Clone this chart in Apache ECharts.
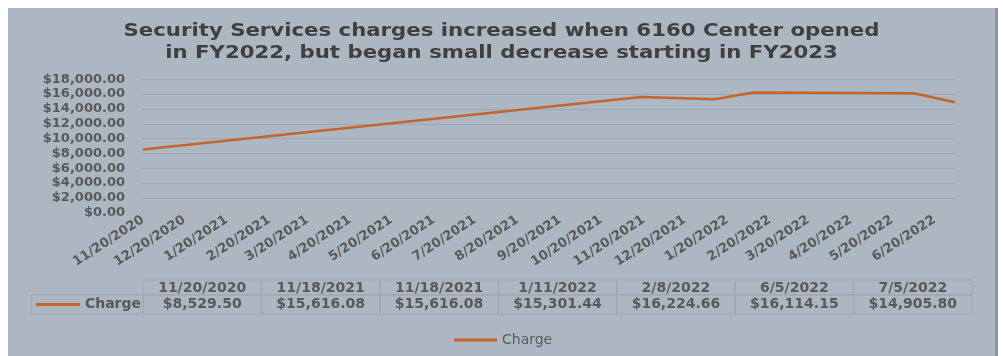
<!DOCTYPE html>
<html>
<head>
<meta charset="utf-8">
<script src="https://cdn.jsdelivr.net/npm/echarts@6/dist/echarts.min.js"></script>
<style>
html,body{margin:0;padding:0;background:#ffffff;width:1003px;height:356px;overflow:hidden;}
#panel{position:absolute;left:8px;top:8px;width:987px;height:352px;background:#acb7c1;border-right:3px solid #8e959b;}
#chart{position:absolute;left:8px;top:8px;width:987px;height:348px;}
</style>
</head>
<body>
<div id="panel"></div>
<div id="chart"></div>
<script>
// ---- data ----
const seriesName = 'Charge';
const pointDates = ['11/20/2020','11/18/2021','11/18/2021','1/11/2022','2/8/2022','6/5/2022','7/5/2022'];
const charges = [8529.50, 15616.08, 15616.08, 15301.44, 16224.66, 16114.15, 14905.80];
const tickLabels = ['11/20/2020','12/20/2020','1/20/2021','2/20/2021','3/20/2021','4/20/2021','5/20/2021',
  '6/20/2021','7/20/2021','8/20/2021','9/20/2021','10/20/2021','11/20/2021','12/20/2021','1/20/2022',
  '2/20/2022','3/20/2022','4/20/2022','5/20/2022','6/20/2022'];
const yMin = 0, yMax = 18000, yStep = 2000;
const titleLines = ['Security Services charges increased when 6160 Center opened',
  'in FY2022, but began small decrease starting in FY2023'];

// ---- helpers ----
function parseDate(s){ const p = s.split('/').map(Number); return Date.UTC(p[2], p[0]-1, p[1]); }
function fmtDate(t){ const d = new Date(t); return (d.getUTCMonth()+1)+'/'+d.getUTCDate()+'/'+d.getUTCFullYear(); }
function money(v){ const s = v.toFixed(2).split('.'); return '$' + s[0].replace(/\B(?=(\d{3})+(?!\d))/g, ',') + '.' + s[1]; }

const xs = pointDates.map(parseDate);
const ticks = tickLabels.map(parseDate);

const lineColor = '#c5642b';
const textColor = '#595959';
const font = 'DejaVu Sans';

// grid placement (container coords)
const G = {left: 135, top: 71.3, width: 812, height: 133.4};

const graphics = [];
// ---- title (horizontally stretched like the reference) ----
titleLines.forEach((t, i) => {
  graphics.push({type:'text', x: 493.5, y: 24 + i * 22, scaleX: 1.25,
    style:{text:t, fill:'#404040', font:'bold 17px "DejaVu Sans"', align:'center', verticalAlign:'middle'}, silent:true});
});

// ---- data table (graphic) ----
const tblLeft = 135, tblCols = pointDates.length, colW = 829 / tblCols;
const hdrTop = 272, hdrH = 15, valTop = 287, valH = 19;
const cellStroke = '#9fa7af';
const cellFont = 'bold 14px "DejaVu Sans"';
for (let i = 0; i < tblCols; i++) {
  const x = tblLeft + i * colW;
  graphics.push({type:'rect', shape:{x:x, y:hdrTop, width:colW, height:hdrH}, style:{fill:'none', stroke:cellStroke, lineWidth:1}, silent:true});
  graphics.push({type:'rect', shape:{x:x, y:valTop, width:colW, height:valH}, style:{fill:'none', stroke:cellStroke, lineWidth:1}, silent:true});
  graphics.push({type:'text', x:x + colW/2, y:hdrTop + hdrH/2 + 0.5, style:{text:pointDates[i], fill:textColor, font:cellFont, align:'center', verticalAlign:'middle'}, silent:true});
  graphics.push({type:'text', x:x + colW/2, y:valTop + valH/2, style:{text:money(charges[i]), fill:textColor, font:cellFont, align:'center', verticalAlign:'middle'}, silent:true});
}
graphics.push({type:'rect', shape:{x:23, y:valTop, width:tblLeft-23, height:valH}, style:{fill:'none', stroke:cellStroke, lineWidth:1}, silent:true});
graphics.push({type:'line', shape:{x1:28, y1:valTop+valH/2, x2:72, y2:valTop+valH/2}, style:{stroke:lineColor, lineWidth:3}, silent:true});
graphics.push({type:'text', x:tblLeft-2, y:valTop+valH/2, style:{text:seriesName, fill:textColor, font:cellFont, align:'right', verticalAlign:'middle'}, silent:true});

const chart = echarts.init(document.getElementById('chart'), null, {renderer:'canvas'});
chart.setOption({
  backgroundColor: 'transparent',
  animation: false,
  legend: {
    data: [seriesName],
    left: 441,
    top: 320,
    icon: 'rect',
    itemWidth: 43,
    itemHeight: 3,
    itemGap: 4,
    textStyle: {fontFamily: font, fontSize: 14, color: textColor}
  },
  grid: Object.assign({containLabel:false, outerBoundsMode:'none'}, G),
  xAxis: {
    type: 'value',
    min: xs[0],
    max: xs[xs.length-1],
    axisLine: {show:true, lineStyle:{color:'#b7b3aa', width:1}},
    axisTick: {show:true, customValues: ticks, length:4, lineStyle:{color:'#b7b3aa'}},
    axisLabel: {customValues: ticks, rotate: 33, margin: 6, formatter: v => fmtDate(v),
      fontFamily: font, fontWeight:'bold', fontSize: 13, color: textColor},
    splitLine: {show:false}
  },
  yAxis: {
    type: 'value',
    min: yMin, max: yMax, interval: yStep,
    axisLine: {show:false},
    axisTick: {show:false},
    axisLabel: {formatter: v => money(v), margin: 18, fontFamily: font, fontWeight:'bold', fontSize: 13, color: textColor},
    splitLine: {show:true, lineStyle:{color:'#9fa6ad', width:1}}
  },
  series: [{
    name: seriesName,
    type: 'line',
    data: xs.map((x, i) => [x, charges[i]]),
    showSymbol: false,
    symbol: 'none',
    lineStyle: {color: lineColor, width: 2.5},
    itemStyle: {color: lineColor}
  }],
  graphic: graphics
});
</script>
</body>
</html>
